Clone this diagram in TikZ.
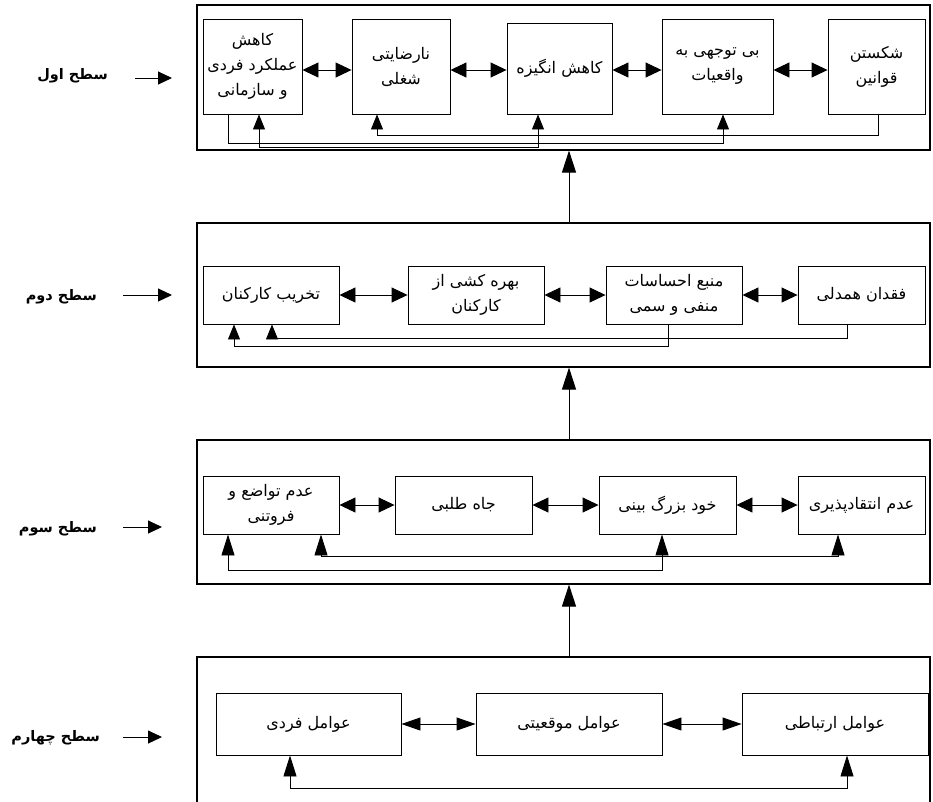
\documentclass[tikz,border=0pt]{standalone}
\usepackage{fontspec}
\usetikzlibrary{arrows.meta,calc}
\TeXXeTstate=1
\newfontfamily\arabicfont[Script=Arabic]{DejaVu Sans}
\newcommand{\fa}[1]{{\arabicfont\beginR #1\endR}}
\tikzset{
  box/.style={draw, line width=0.9pt, inner sep=0pt, align=center,
    font=\fontsize{16pt}{25pt}\selectfont},
  frame/.style={draw, line width=1.1pt, inner sep=0pt},
  dbl/.style={line width=0.9pt, >={Triangle[length=16pt,width=15pt]}, <->},
  dblw/.style={line width=0.9pt, >={Triangle[length=19pt,width=13pt]}, <->},
  fbA/.style={line width=0.9pt, >={Triangle[length=15pt,width=12pt]}},
  fbB/.style={line width=0.9pt, >={Triangle[length=15pt,width=12pt]}},
  fbC/.style={line width=0.9pt, >={Triangle[length=21pt,width=13pt]}},
  lvl/.style={line width=1pt, >={Triangle[length=22pt,width=14pt]}, ->},
  lab/.style={line width=1pt, >={Triangle[length=14pt,width=13pt]}, ->},
  labtxt/.style={anchor=east, inner sep=0pt, font=\fontsize{14.5pt}{17pt}\selectfont\bfseries}
}
\begin{document}
\begin{tikzpicture}[x=1pt,y=-1pt]
\useasboundingbox (0,0) rectangle (933,801);

% ---------- frames ----------
\node[frame, minimum width=733, minimum height=145] (f1) at (563.5,77.5) {};
\node[frame, minimum width=733, minimum height=144] (f2) at (563.5,295) {};
\node[frame, minimum width=733, minimum height=144] (f3) at (563.5,512) {};
\node[frame, minimum width=733, minimum height=173] (f4) at (563.5,743.5) {};

% ---------- level 1 ----------
\node[box, minimum width=99, minimum height=95] (b11) at (252.5,66.5) {\fa{کاهش}\\\fa{عملکرد فردی}\\\fa{و سازمانی}};
\node[box, minimum width=98, minimum height=95] (b12) at (401,66.5) {\fa{نارضایتی}\\\fa{شغلی}};
\node[box, minimum width=105, minimum height=91] (b13) at (559.5,68.5) {\fa{کاهش انگیزه}};
\node[box, minimum width=111, minimum height=95] (b14) at (717.5,66.5) {\fa{بی توجهی به}\\\fa{واقعیات}};
\node[box, minimum width=97, minimum height=95] (b15) at (876.5,66.5) {\fa{شکستن}\\\fa{قوانین}};

\draw[dbl] ($(b11.east)+(0,3.5)$) -- ($(b12.west)+(0,3.5)$);
\draw[dbl] ($(b12.east)+(0,3.5)$) -- ($(b13.west)+(0,1.5)$);
\draw[dbl] ($(b13.east)+(0,1.5)$) -- ($(b14.west)+(0,3.5)$);
\draw[dbl] ($(b14.east)+(0,3.5)$) -- ($(b15.west)+(0,3.5)$);

\draw[fbA,->] ([xshift=1.5pt]b15.south) -- ++(0,21) -| ([xshift=-24pt]b12.south);
\draw[fbA,->] ([xshift=-24.5pt]b11.south) -- ++(0,29) -| ([xshift=5.5pt]b14.south);
\draw[fbA,<->] ([xshift=6.5pt]b11.south) -- ++(0,33) -| ([xshift=-21.5pt]b13.south);

% ---------- level 2 ----------
\node[box, minimum width=136, minimum height=58] (b21) at (271,295) {\fa{تخریب کارکنان}};
\node[box, minimum width=136, minimum height=58] (b22) at (476,295) {\fa{بهره کشی از}\\\fa{کارکنان}};
\node[box, minimum width=136, minimum height=58] (b23) at (674,295) {\fa{منبع احساسات}\\\fa{منفی و سمی}};
\node[box, minimum width=127, minimum height=58] (b24) at (861.5,295) {\fa{فقدان همدلی}};

\draw[dbl] (b21.east) -- (b22.west);
\draw[dbl] (b22.east) -- (b23.west);
\draw[dbl] (b23.east) -- (b24.west);

\draw[fbB,->] ([xshift=-14.5pt]b24.south) -- ++(0,14) -| ([xshift=1pt]b21.south);
\draw[fbB,->] ([xshift=-6pt]b23.south) -- ++(0,22) -| ([xshift=-37pt]b21.south);

% ---------- level 3 ----------
\node[box, minimum width=136, minimum height=58] (b31) at (271,505) {\fa{عدم تواضع و}\\\fa{فروتنی}};
\node[box, minimum width=137, minimum height=58] (b32) at (463.5,505) {\fa{جاه طلبی}};
\node[box, minimum width=137, minimum height=58] (b33) at (667.5,505) {\fa{خود بزرگ بینی}};
\node[box, minimum width=127, minimum height=58] (b34) at (861.5,505) {\fa{عدم انتقادپذیری}};

\draw[dbl] (b31.east) -- (b32.west);
\draw[dbl] (b32.east) -- (b33.west);
\draw[dbl] (b33.east) -- (b34.west);

\draw[fbC,<->] ([xshift=50pt]b31.south) -- ++(0,22) -| ([xshift=-23.5pt]b34.south);
\draw[fbC,<->] ([xshift=-43pt]b31.south) -- ++(0,36) -| ([xshift=-5.5pt]b33.south);

% ---------- level 4 ----------
\node[box, minimum width=185, minimum height=62] (b41) at (308.5,724) {\fa{عوامل فردی}};
\node[box, minimum width=186, minimum height=62] (b42) at (569,724) {\fa{عوامل موقعیتی}};
\node[box, minimum width=186, minimum height=62] (b43) at (835,724) {\fa{عوامل ارتباطی}};

\draw[dblw] (b41.east) -- (b42.west);
\draw[dblw] (b42.east) -- (b43.west);

\draw[fbC,<->] ([xshift=-18.5pt]b41.south) -- ++(0,33) -| ([xshift=12pt]b43.south);

% ---------- between levels ----------
\draw[lvl] (f2.north -| b42) -- (f1.south -| b42);
\draw[lvl] (f3.north -| b42) -- (f2.south -| b42);
\draw[lvl] (f4.north -| b42) -- (f3.south -| b42);

% ---------- level labels ----------
\node[labtxt] (l1) at (108,76) {\fa{سطح اول}};
\node[labtxt] (l2) at (97,297) {\fa{سطح دوم}};
\node[labtxt] (l3) at (97,529) {\fa{سطح سوم}};
\node[labtxt] (l4) at (100,738) {\fa{سطح چهارم}};
\coordinate (e1) at (172,78);
\coordinate (e2) at (172,295);
\coordinate (e3) at (162,527);
\coordinate (e4) at (162,737);
\draw[lab, shorten <=27pt] (l1.east |- e1) -- (e1);
\draw[lab, shorten <=26pt] (l2.east |- e2) -- (e2);
\draw[lab, shorten <=26pt] (l3.east |- e3) -- (e3);
\draw[lab, shorten <=23pt] (l4.east |- e4) -- (e4);
\end{tikzpicture}
\end{document}
